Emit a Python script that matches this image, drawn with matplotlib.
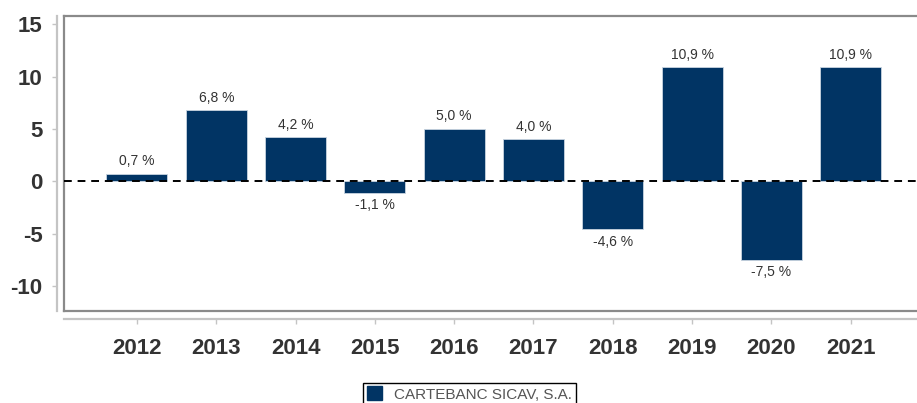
import matplotlib.pyplot as plt
from matplotlib.patches import Patch

years = ["2012", "2013", "2014", "2015", "2016", "2017", "2018", "2019", "2020", "2021"]
returns = [0.7, 6.8, 4.2, -1.1, 5.0, 4.0, -4.6, 10.9, -7.5, 10.9]
yticks = [15, 10, 5, 0, -5, -10]
series_name = "CARTEBANC SICAV, S.A."

BAR_COLOR = "#013464"
TEXT_COLOR = "#333333"
XLIM = (-0.92, 9.9)
YLIM = (-12.4, 15.8)

plt.rcParams["font.family"] = ["Liberation Sans", "DejaVu Sans"]

W, H = 917, 403
fig = plt.figure(figsize=(W / 100, H / 100), dpi=100)

# plot box: framed area holding the bars
left, right, top, bottom = 64, 922, 16, 311
pos = [left / W, 1 - bottom / H, (right - left) / W, (bottom - top) / H]
ax = fig.add_axes(pos)
x = list(range(len(years)))
ax.bar(x, returns, width=0.77, color=BAR_COLOR, edgecolor="#c8d4e0", linewidth=0.6, zorder=2)
ax.axhline(0, color="black", linestyle=(0, (4, 3)), linewidth=1.4, zorder=3)
ax.set_xlim(*XLIM)
ax.set_ylim(*YLIM)
for s in ax.spines.values():
    s.set_color("#8a8a8a")
    s.set_linewidth(1.6)
ax.set_xticks([])
ax.set_yticks([])

for xi, v in zip(x, returns):
    label = f"{v:.1f}".replace(".", ",") + " %"
    if v >= 0:
        ax.annotate(label, (xi, v), xytext=(0, 4), textcoords="offset points",
                    ha="center", va="bottom", fontsize=10, color=TEXT_COLOR)
    else:
        ax.annotate(label, (xi, v), xytext=(0, -4), textcoords="offset points",
                    ha="center", va="top", fontsize=10, color=TEXT_COLOR)

# detached axis lines with ticks and labels
axis_ax = fig.add_axes(pos)
axis_ax.set_xlim(*XLIM)
axis_ax.set_ylim(*YLIM)
axis_ax.patch.set_visible(False)
axis_ax.spines["top"].set_visible(False)
axis_ax.spines["right"].set_visible(False)
axis_ax.spines["left"].set_position(("outward", 5))
axis_ax.spines["bottom"].set_position(("outward", 6))
for side in ("left", "bottom"):
    axis_ax.spines[side].set_color("#c4c4c4")
    axis_ax.spines[side].set_linewidth(1.6)
axis_ax.set_xticks(x)
axis_ax.set_xticklabels(years)
axis_ax.set_yticks(yticks)
axis_ax.set_yticklabels([str(t) for t in yticks])
axis_ax.tick_params(axis="both", direction="out", length=3.5, width=1, color="#c4c4c4",
                    labelsize=16, labelcolor=TEXT_COLOR)
axis_ax.tick_params(axis="x", pad=10)
axis_ax.tick_params(axis="y", pad=7)
for lab in axis_ax.get_xticklabels() + axis_ax.get_yticklabels():
    lab.set_fontweight("bold")

fig.legend(handles=[Patch(facecolor=BAR_COLOR, edgecolor=BAR_COLOR, label=series_name)],
           loc="upper center", bbox_to_anchor=(469.5 / W, 1 - 375 / H),
           frameon=True, fancybox=False, edgecolor="black", fontsize=11,
           labelcolor="#555555", handlelength=1.0, handleheight=1.0,
           handletextpad=0.8, borderpad=0.25, framealpha=1)

fig.savefig("out.png", dpi=100)
